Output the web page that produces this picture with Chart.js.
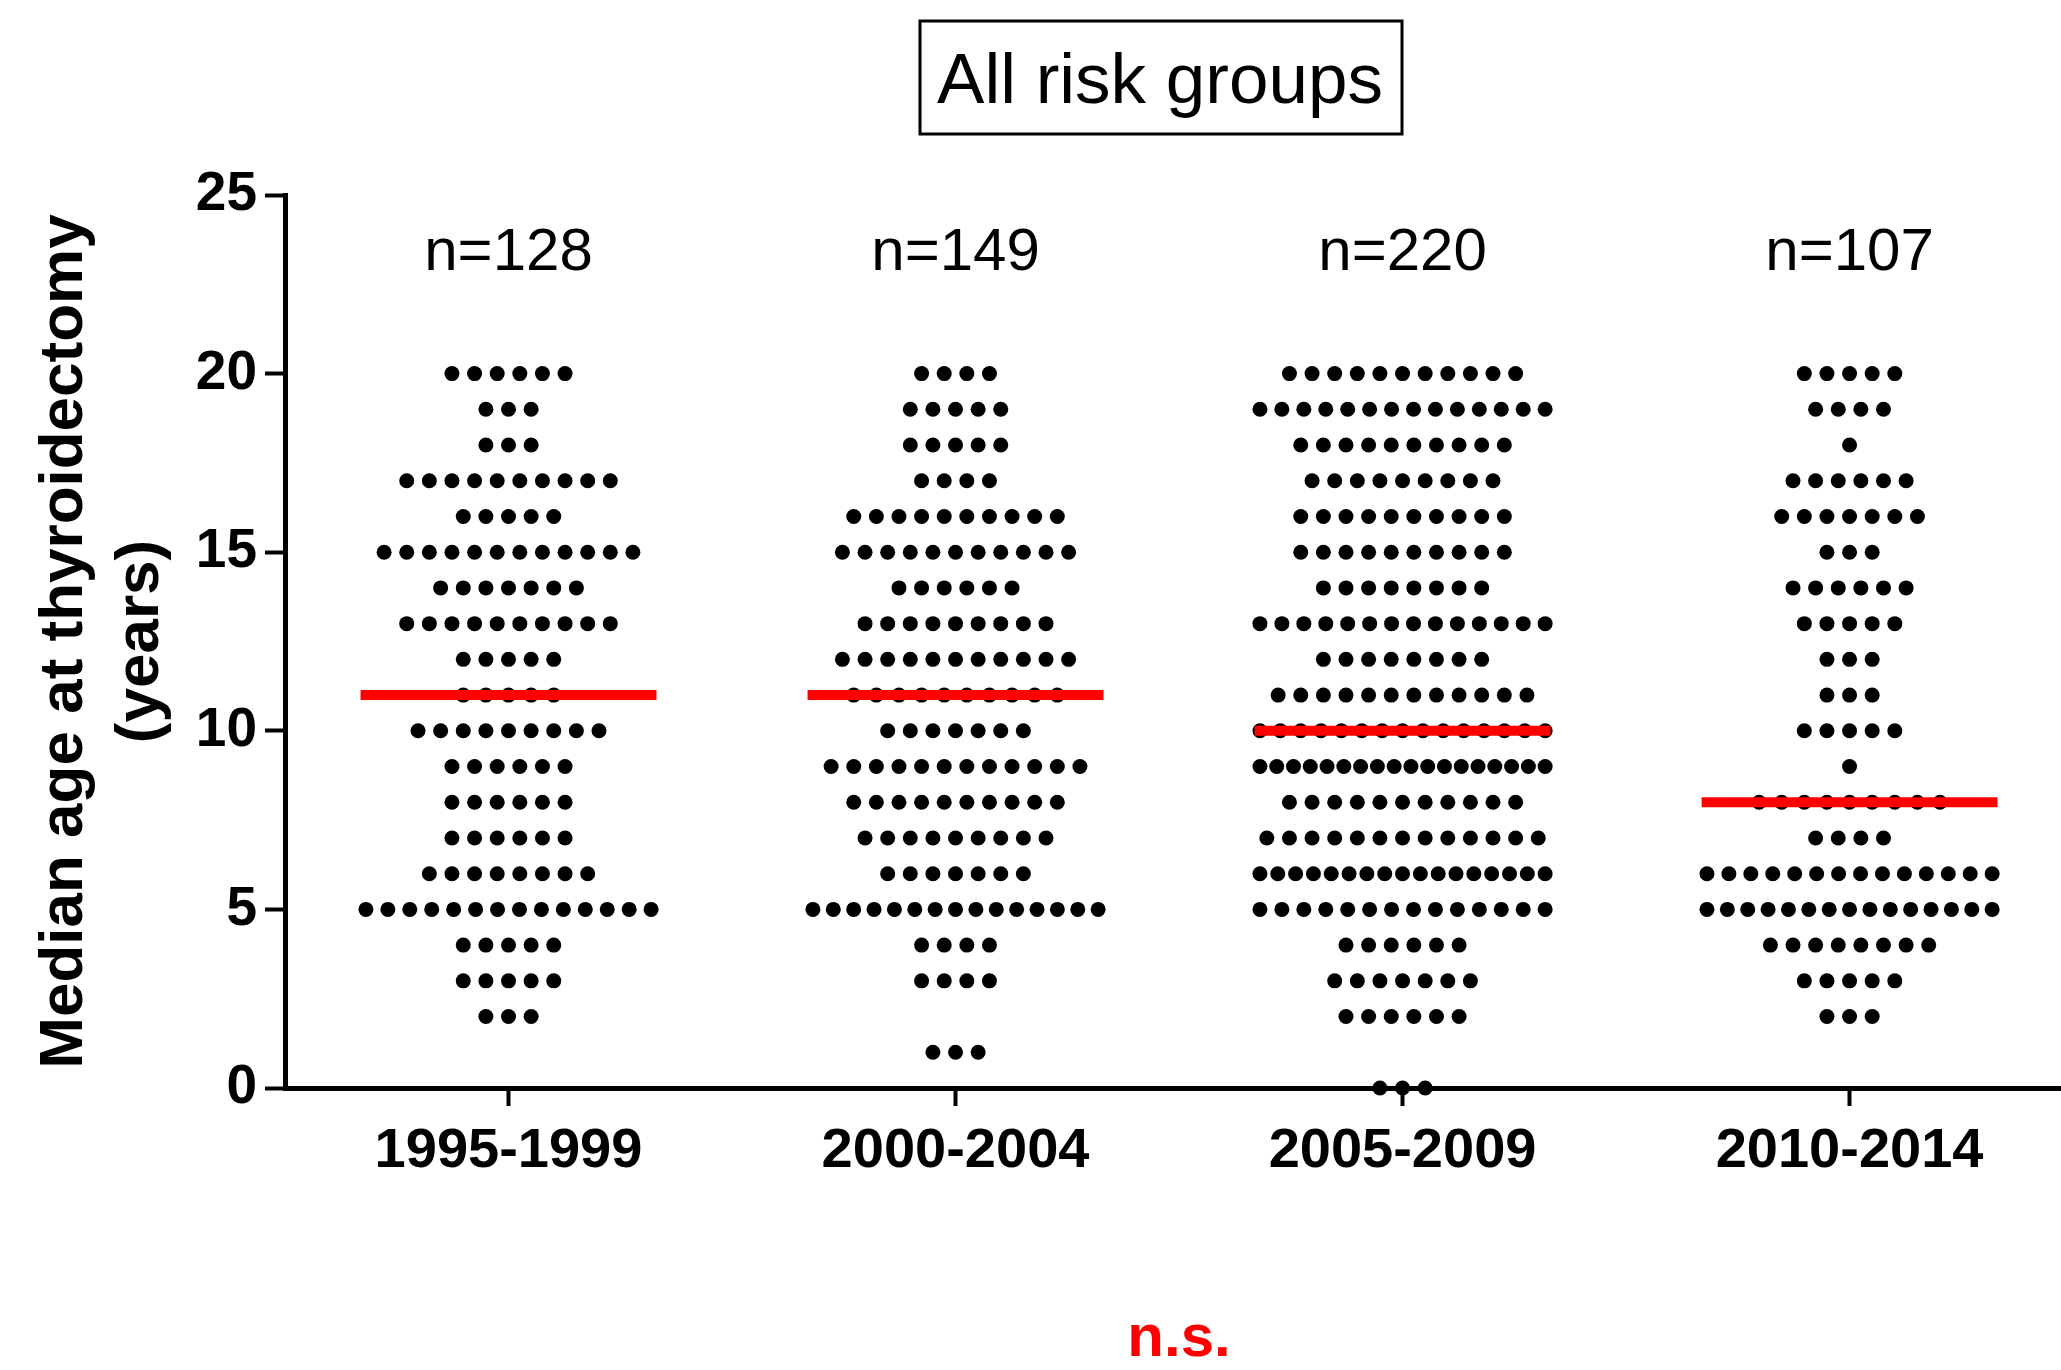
<!DOCTYPE html>
<html>
<head>
<meta charset="utf-8">
<script src="https://cdn.jsdelivr.net/npm/chart.js@4.4.1/dist/chart.umd.min.js"></script>
<style>
  body { margin: 0; background: #fff; }
  #wrap { width: 2061px; height: 1370px; }
</style>
</head>
<body>
<div id="wrap"><canvas id="chart"></canvas></div>
<script>
// groups on the x axis
const categories = ['1995-1999', '2000-2004', '2005-2009', '2010-2014'];
const nLabels = ['n=128', 'n=149', 'n=220', 'n=107'];
const medians = [11, 11, 10, 8];
const yTicks = [0, 5, 10, 15, 20, 25];

// number of patients per age (index = age in years, 0..20)
const counts1995 = [0, 0, 3, 5, 5, 14, 8, 6, 6, 6, 9, 5, 5, 10, 7, 12, 5, 10, 3, 3, 6];
const counts2000 = [0, 3, 0, 4, 4, 15, 7, 9, 10, 12, 7, 10, 11, 9, 6, 11, 10, 4, 5, 5, 4];
const counts2005 = [3, 0, 6, 7, 6, 14, 17, 13, 11, 18, 15, 12, 8, 14, 8, 10, 10, 9, 10, 14, 11];
const counts2010 = [0, 0, 3, 5, 8, 15, 14, 4, 9, 1, 5, 3, 3, 5, 6, 3, 7, 6, 1, 4, 5];
const allCounts = [counts1995, counts2000, counts2005, counts2010];

// scatter-dot layout: rows spread sideways around the group centre
const dotStep = 0.0506;
const maxSpread = 0.638;
const halfMedian = 0.331;

const dots = [];
allCounts.forEach((row, g) => {
  row.forEach((c, age) => {
    if (!c) return;
    const step = c > 1 ? Math.min(dotStep, maxSpread / (c - 1)) : 0;
    for (let k = 0; k < c; k++) {
      dots.push({ x: g + 1 + (k - (c - 1) / 2) * step, y: age });
    }
  });
});

const medianSets = medians.map((m, g) => ({
  type: 'line',
  data: [{ x: g + 1 - halfMedian, y: m }, { x: g + 1 + halfMedian, y: m }],
  borderColor: '#ff0000',
  borderWidth: 10,
  borderCapStyle: 'butt',
  pointRadius: 0,
  order: 0,
  clip: false
}));

const annotate = {
  id: 'annotate',
  afterDraw(chart) {
    const { ctx, scales: { x, y } } = chart;
    ctx.save();
    ctx.fillStyle = '#000';
    ctx.textAlign = 'center';
    ctx.textBaseline = 'middle';
    ctx.font = '60px "Liberation Sans", Arial, sans-serif';
    nLabels.forEach((t, i) => {
      ctx.fillText(t, x.getPixelForValue(i + 1), y.getPixelForValue(23.35));
    });
    // boxed title
    ctx.textBaseline = 'alphabetic';
    ctx.font = '71px "Liberation Sans", Arial, sans-serif';
    ctx.fillText('All risk groups', 1160, 103);
    ctx.lineWidth = 3;
    ctx.strokeStyle = '#000';
    ctx.strokeRect(920, 21, 482, 113);
    // n.s.
    ctx.fillStyle = '#ff0000';
    ctx.font = 'bold 60px "Liberation Sans", Arial, sans-serif';
    ctx.fillText('n.s.', 1179, 1356);
    ctx.restore();
  }
};

new Chart(document.getElementById('chart'), {
  type: 'scatter',
  data: {
    datasets: [
      ...medianSets,
      {
        data: dots,
        backgroundColor: '#000',
        borderWidth: 0,
        pointRadius: 7.5,
        pointHoverRadius: 7.5,
        order: 1,
        clip: false
      }
    ]
  },
  options: {
    responsive: true,
    maintainAspectRatio: false,
    animation: false,
    layout: { autoPadding: false, padding: { top: 195, left: 0, right: 0, bottom: 0 } },
    plugins: { legend: { display: false }, tooltip: { enabled: false } },
    scales: {
      x: {
        type: 'linear',
        min: 0.5,
        max: 4.473,
        afterBuildTicks: (s) => { s.ticks = categories.map((c, i) => ({ value: i + 1 })); },
        afterFit: (s) => { s.height = 282; s.paddingLeft = 0; s.paddingRight = 0; },
        ticks: {
          autoSkip: false,
          maxRotation: 0,
          padding: 12,
          color: '#000',
          font: { family: '"Liberation Sans", Arial, sans-serif', size: 56, weight: 'bold' },
          callback: (v) => categories[v - 1]
        },
        grid: { drawOnChartArea: false, drawTicks: true, tickLength: 18, tickWidth: 4, tickColor: '#000' },
        border: { display: true, width: 5, color: '#000' }
      },
      y: {
        min: 0,
        max: 25,
        afterBuildTicks: (s) => { s.ticks = yTicks.map(v => ({ value: v })); },
        afterFit: (s) => { s.width = 285; },
        ticks: {
          padding: 8,
          color: '#000',
          font: { family: '"Liberation Sans", Arial, sans-serif', size: 55, weight: 'bold' }
        },
        grid: { drawOnChartArea: false, drawTicks: true, tickLength: 20, tickWidth: 4, tickColor: '#000' },
        border: { display: true, width: 5, color: '#000' },
        title: {
          display: true,
          text: ['Median age at thyroidectomy', '(years)'],
          color: '#000',
          padding: { top: 27, bottom: 0 },
          font: { family: '"Liberation Sans", Arial, sans-serif', size: 62, weight: 'bold', lineHeight: 1.23 }
        }
      }
    }
  },
  plugins: [annotate]
});
</script>
</body>
</html>
